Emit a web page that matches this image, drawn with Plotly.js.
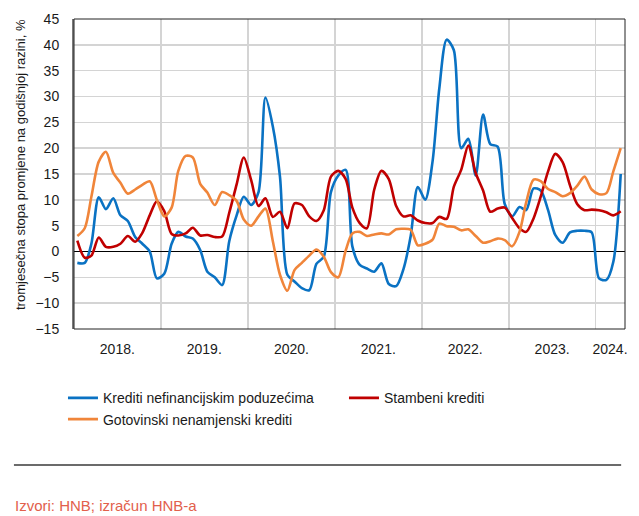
<!DOCTYPE html>
<html>
<head>
<meta charset="utf-8">
<script src="https://cdn.plot.ly/plotly-3.0.1.min.js"></script>
<style>
  html, body { margin: 0; padding: 0; background: #ffffff; }
  #chart { width: 639px; height: 516px; }
</style>
</head>
<body>
<div id="chart"></div>
<script>
// Monthly series, January 2018 – April 2024 (three-month rate, annualised, %)
const startYear = 2018;
const startMonth = 1;

const corporateLoans = [
  -2.2, -2.2, 1.5, 10.5, 8.2, 10.3, 7.0, 5.9, 2.8, 1.5,
  0.0, -5.2, -4.3, 1.5, 3.8, 2.9, 2.5, 0.3, -3.9, -5.0,
  -6.5, 2.0, 7.0, 10.6, 9.0, 11.5, 29.8, 24.2, 14.5, -4.5,
  -5.8, -7.1, -7.5, -2.4, -1.0, 11.5, 14.7, 15.8, 1.0, -2.6,
  -3.3, -3.9, -2.3, -6.3, -6.7, -3.5, 3.0, 12.5, 10.0, 17.5,
  31.5, 41.0, 39.0, 20.0, 21.8, 14.7, 26.5, 20.8, 20.3, 9.2,
  6.8, 8.6, 8.0, 12.2, 11.8, 8.0, 3.2, 1.7, 3.7, 4.0,
  4.0, 3.7, -5.2, -5.5, -2.0, 15.0
];

const housingLoans = [
  2.1, -1.2, -0.8, 2.7, 0.9, 0.9, 1.5, 3.0, 1.9, 3.6,
  7.0, 9.7, 7.8, 3.4, 3.1, 3.5, 4.6, 3.1, 3.2, 2.8,
  2.9, 7.5, 13.0, 18.2, 13.8, 8.8, 10.3, 6.7, 7.7, 4.5,
  9.3, 9.0, 6.8, 5.9, 8.0, 14.5, 15.6, 14.0, 8.5, 5.5,
  4.5, 12.0, 15.6, 14.0, 8.8, 6.8, 7.0, 6.0, 5.5, 5.5,
  6.7, 6.3, 12.5, 15.8, 20.5, 15.2, 11.8, 7.7, 8.3, 8.5,
  6.5, 4.5, 3.8, 6.4, 10.6, 15.5, 18.9, 17.3, 12.8, 9.2,
  8.0, 8.1, 8.0, 7.6, 7.0, 7.8
];

const cashLoans = [
  3.0, 4.5, 10.6, 17.4, 19.3, 15.2, 13.3, 11.2, 12.0, 12.9,
  13.6, 10.0, 6.8, 8.5, 15.6, 18.5, 18.2, 13.1, 11.4, 9.0,
  11.5, 10.9, 9.8, 6.2, 5.0, 6.8, 8.3, 2.0, -4.5, -7.6,
  -3.6, -2.2, -0.8, 0.4, -1.0, -4.0, -5.0, 0.2, 3.5, 3.8,
  3.0, 3.3, 3.5, 3.3, 4.3, 4.4, 4.2, 1.2, 1.5, 2.3,
  5.4, 4.9, 4.8, 4.1, 4.3, 3.0, 1.7, 2.0, 2.5, 2.2,
  1.0, 3.8, 9.5, 13.9, 13.6, 12.1, 11.5, 10.7, 11.3, 12.7,
  14.5, 12.0, 11.1, 11.3, 15.5, 20.0
];

const seriesNames = [
  'Krediti nefinancijskim poduzećima',
  'Stambeni krediti',
  'Gotovinski nenamjenski krediti'
];
const seriesColors = ['#0a72c3', '#c00000', '#f0853a'];

// Year labels sit in the middle of each calendar year; grid lines mark year starts
const yearLabels = ['2018.', '2019.', '2020.', '2021.', '2022.', '2023.', '2024.'];
const yearLabelDates = ['2018-07-02', '2019-07-02', '2020-07-02', '2021-07-02',
                        '2022-07-02', '2023-07-02', '2024-03-01'];
const yearStarts = ['2019-01-01', '2020-01-01', '2021-01-01', '2022-01-01',
                    '2023-01-01', '2024-01-01'];

const yTitle = 'tromjesečna stopa promjene na godišnjoj razini, %';
const sourceNote = 'Izvori: HNB; izračun HNB-a';

// Mid-month dates for each observation
function monthDates(n) {
  const out = [];
  for (let k = 0; k < n; k++) {
    const m0 = startMonth - 1 + k;
    const y = startYear + Math.floor(m0 / 12);
    const m = (m0 % 12) + 1;
    out.push(y + '-' + String(m).padStart(2, '0') + '-15');
  }
  return out;
}
const months = monthDates(corporateLoans.length);

const values = [corporateLoans, housingLoans, cashLoans];
const traces = values.map((v, k) => ({
  type: 'scatter',
  mode: 'lines',
  x: months,
  y: v,
  name: seriesNames[k],
  line: { color: seriesColors[k], width: 2.6, shape: 'spline', smoothing: 0.8 },
  hoverinfo: 'skip'
}));

const textFont = { family: 'Liberation Sans, Arial, sans-serif', size: 14, color: '#1a1a1a' };

const layout = {
  width: 639,
  height: 516,
  margin: { l: 74, r: 14, t: 19, b: 187 },
  paper_bgcolor: '#ffffff',
  plot_bgcolor: '#ffffff',
  font: textFont,
  showlegend: true,
  xaxis: {
    type: 'date',
    range: ['2018-01-01', '2024-05-03'],
    tickmode: 'array',
    tickvals: yearLabelDates,
    ticktext: yearLabels,
    ticks: '',
    showgrid: false,
    zeroline: false,
    showline: false,
    tickfont: textFont,
    ticklabelstandoff: 10,
    minor: {
      tickmode: 'array',
      tickvals: yearStarts,
      ticks: '',
      showgrid: true,
      gridcolor: '#d4d4d4',
      gridwidth: 1.5
    },
    fixedrange: true
  },
  yaxis: {
    range: [-15, 45],
    tickmode: 'linear',
    tick0: -15,
    dtick: 5,
    ticks: '',
    showgrid: true,
    gridcolor: '#d4d4d4',
    gridwidth: 1.5,
    zeroline: true,
    zerolinecolor: '#000000',
    zerolinewidth: 1.2,
    showline: true,
    linecolor: '#7a7a7a',
    linewidth: 2,
    tickfont: textFont,
    ticklabelstandoff: 10,
    fixedrange: true
  },
  legend: {
    orientation: 'h',
    x: -0.02,
    xanchor: 'left',
    y: -0.172,
    yanchor: 'top',
    entrywidth: 236,
    entrywidthmode: 'pixels',
    font: textFont,
    bgcolor: 'rgba(0,0,0,0)',
    tracegroupgap: 0
  },
  shapes: [
    {
      type: 'rect', xref: 'paper', yref: 'paper',
      x0: 0, x1: 1, y0: 0, y1: 1,
      line: { color: '#222222', width: 1 },
      layer: 'above'
    },
    {
      type: 'line', xref: 'paper', yref: 'paper',
      x0: -0.109, x1: 0.993, y0: -0.4387, y1: -0.4387,
      line: { color: '#3a3a3a', width: 1.5 }
    }
  ],
  annotations: [
    {
      text: yTitle,
      xref: 'paper', yref: 'paper',
      x: -0.098, y: 0.529,
      xanchor: 'center', yanchor: 'middle',
      textangle: -90,
      showarrow: false,
      font: { family: textFont.family, size: 13, color: '#1a1a1a' }
    },
    {
      text: sourceNote,
      xref: 'paper', yref: 'paper',
      x: -0.111, y: -0.568,
      xanchor: 'left', yanchor: 'middle',
      showarrow: false,
      font: { family: textFont.family, size: 15, color: '#e2604c' }
    }
  ]
};

Plotly.newPlot('chart', traces, layout, { staticPlot: true, displayModeBar: false });
</script>
</body>
</html>
